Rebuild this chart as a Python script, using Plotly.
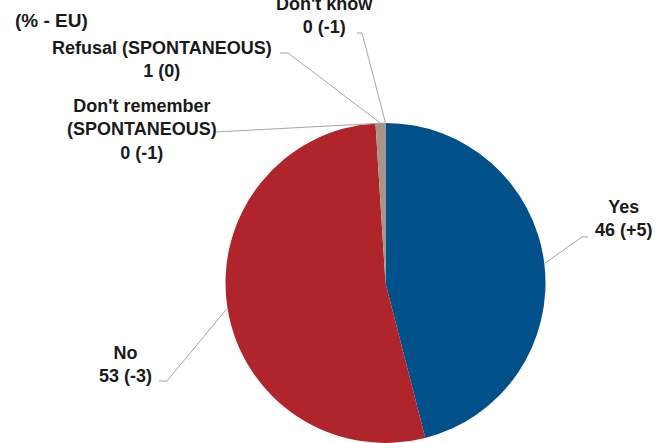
import math
import plotly.graph_objects as go

# --- data ---
labels = ["Yes", "No", "Refusal (SPONTANEOUS)", "Don't know", "Don't remember (SPONTANEOUS)"]
values = [46, 53, 1, 0, 0]
changes = ["+5", "-3", "0", "-1", "-1"]
colors = ["#00508a", "#b0252b", "#a89585", "#7f7f7f", "#d9d9d9"]
label_text = ["Yes", "No", "Refusal (SPONTANEOUS)", "Don't know", "Don't remember<br>(SPONTANEOUS)"]

W, H = 657, 443
FONT = "Liberation Sans, Arial, sans-serif"

# pie geometry in pixels
cx, cy, r = 385.5, 283.5, 160.5


def px(x, y):
    return x / W, 1 - y / H


def edge_point(frac):
    # fraction of circle, clockwise from 12 o'clock
    a = 2 * math.pi * frac
    return cx + r * math.sin(a), cy - r * math.cos(a)


fig = go.Figure(go.Pie(
    labels=labels,
    values=values,
    sort=False,
    direction="clockwise",
    rotation=0,
    marker=dict(colors=colors, line=dict(width=0)),
    textinfo="none",
    hoverinfo="label+value",
    showlegend=False,
    domain=dict(x=[(cx - r) / W, (cx + r) / W], y=[0, (H - (cy - r)) / H]),
))

# label anchor (text centre, pixels) and leader elbow points
label_pos = {
    "Yes": (624, 218),
    "No": (125, 364),
    "Refusal (SPONTANEOUS)": (162, 59),
    "Don't know": (324, 15),
    "Don't remember (SPONTANEOUS)": (142, 129),
}
elbows = {
    "Yes": [(588, 237), (582, 237)],
    "No": [(159, 381), (167, 381)],
    "Refusal (SPONTANEOUS)": [(280, 53), (288, 53)],
    "Don't know": [(357, 33), (362, 33)],
    "Don't remember (SPONTANEOUS)": [(215, 132)],
}

cum = 0
mids = []
for v in values:
    mids.append((cum + v / 2) / sum(values))
    cum += v

annotations = []
shapes = []
for lab, txt, val, ch, m in zip(labels, label_text, values, changes, mids):
    x, y = label_pos[lab]
    ax, ay = px(x, y)
    annotations.append(dict(
        x=ax, y=ay, xref="paper", yref="paper",
        text=f"<b>{txt}<br>{val} ({ch})</b>",
        showarrow=False, xanchor="center", yanchor="middle",
        font=dict(family=FONT, size=18, color="#1a1a1a"),
    ))
    pts = elbows[lab] + [edge_point(m)]
    path = "M " + " L ".join(f"{px(a, b)[0]:.5f},{px(a, b)[1]:.5f}" for a, b in pts)
    shapes.append(dict(type="path", path=path, xref="paper", yref="paper",
                       line=dict(color="#a6a6a6", width=1)))

annotations.append(dict(
    x=px(13, 21)[0], y=px(13, 21)[1], xref="paper", yref="paper",
    text="<b>(% - EU)</b>", showarrow=False, xanchor="left", yanchor="middle",
    font=dict(family=FONT, size=19, color="#1a1a1a"),
))

fig.update_layout(
    width=W, height=H,
    margin=dict(l=0, r=0, t=0, b=0),
    paper_bgcolor="white",
    plot_bgcolor="white",
    annotations=annotations,
    shapes=shapes,
)

# drop the default page margin so the figure sits at the window's corner
fig.write_html("out.html", config={"displayModeBar": False},
               post_script="document.body.style.margin='0';")
